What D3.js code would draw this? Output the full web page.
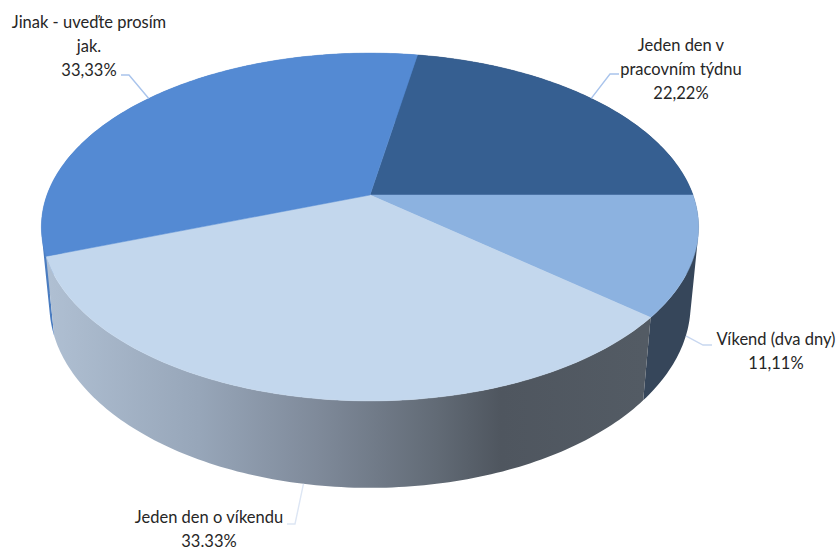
<!DOCTYPE html>
<html>
<head>
<meta charset="utf-8">
<script src="https://cdn.jsdelivr.net/npm/d3@7"></script>
<style>
  html, body { margin: 0; padding: 0; background: #fff; overflow: hidden; }
  text { font-family: Lato, "Open Sans", sans-serif; font-size: 16.5px; fill: #262626; }
</style>
</head>
<body>
<svg id="chart" width="837" height="548"></svg>
<script>
// chart data, top level
const categories = ["Jeden den v pracovním týdnu", "Víkend (dva dny)", "Jeden den o víkendu", "Jinak - uveďte prosím jak."];
const values = [22.22, 11.11, 33.33, 33.33];
const valueLabels = ["22,22%", "11,11%", "33.33%", "33,33%"];
const labelLines = [["Jeden den v", "pracovním týdnu"], ["Víkend (dva dny)"], ["Jeden den o víkendu"], ["Jinak - uveďte prosím", "jak."]];

const topColors = ["#365f91", "#8cb2e0", "#c3d7ed", "#548ad3"];
const sideColors = ["#263f5e", "#36465a", "url(#sideFade)", "#4a7cc0"];
const leaderColors = ["#a9c4ec", "#c8d7f0", "#dde6f4", "#a9c4ec"];

// perspective of the tilted disc
const cx = 370, cy = 195;
const rx = 323, ry = 168;
const tilt = 0.184;    // how much the front edge grows
const depth = 78;      // thickness on screen
const shrink = 0.024;  // lower face is a bit smaller

function project(angle, lower) {
  const X = Math.sin(angle), Y = -Math.cos(angle);
  const w = 1 - tilt * Y + (lower ? shrink : 0);
  return [cx + rx * X / w, cy + (ry * Y + (lower ? depth : 0)) / w];
}

const svg = d3.select("#chart");
const line = d3.line();

const fade = svg.append("defs").append("linearGradient")
  .attr("id", "sideFade")
  .attr("gradientUnits", "userSpaceOnUse")
  .attr("x1", 50).attr("x2", 643).attr("y1", 0).attr("y2", 0);
[[0, "#afbfd2"], [0.25, "#97a6b9"], [0.45, "#7f8a9a"], [0.65, "#626b76"], [0.76, "#4f565f"], [1, "#535b64"]]
  .forEach(s => fade.append("stop").attr("offset", s[0]).attr("stop-color", s[1]));

const pie = d3.pie().sort(null)
  .startAngle(10 * Math.PI / 180)
  .endAngle(370 * Math.PI / 180);
const slices = pie(values);

function sampleAngles(d) {
  const n = Math.max(2, Math.ceil((d.endAngle - d.startAngle) * 60));
  return d3.range(n + 1).map(i => d.startAngle + (d.endAngle - d.startAngle) * i / n);
}

// wall as thin strips between top and lower rim, all wound the same way
// so the fold at the left and right edges stays filled
function wallPath(d) {
  const a = sampleAngles(d);
  return d3.pairs(a).map(([a0, a1]) => {
    const quad = [project(a0, false), project(a1, false), project(a1, true), project(a0, true)];
    if (d3.polygonArea(quad) < 0) quad.reverse();
    return line(quad) + "Z";
  }).join("");
}

// back slices first so the front ones sit on top
svg.append("g").selectAll("path")
  .data([slices[0], slices[3], slices[1], slices[2]])
  .enter().append("path")
  .attr("d", wallPath)
  .attr("fill", d => sideColors[d.index]);

// top face
svg.append("g").selectAll("path")
  .data(slices)
  .enter().append("path")
  .attr("d", d => line([[cx, cy]].concat(sampleAngles(d).map(a => project(a, false)))) + "Z")
  .attr("fill", d => topColors[d.index])
  .attr("stroke", d => topColors[d.index])
  .attr("stroke-width", 0.5);

// leader lines start at the slice's middle angle
const leaderBends = [
  { lower: false, pts: [[610, 74], [619, 74]] },
  { lower: true, pts: [[703, 345], [712, 345]] },
  { lower: true, pts: [[295, 524], [287, 524]] },
  { lower: false, pts: [[129, 75], [121, 75]] }
];
svg.append("g").selectAll("path")
  .data(slices)
  .enter().append("path")
  .attr("d", d => line([project((d.startAngle + d.endAngle) / 2, leaderBends[d.index].lower)].concat(leaderBends[d.index].pts)))
  .attr("fill", "none")
  .attr("stroke", d => leaderColors[d.index])
  .attr("stroke-width", 1.4);

// labels
const labelPos = [
  { x: 681, y: 50.5 },
  { x: 776, y: 345 },
  { x: 209, y: 523 },
  { x: 89, y: 28 }
];
const lineStep = 24;
const labels = svg.append("g").selectAll("text")
  .data(categories)
  .enter().append("text")
  .attr("text-anchor", "middle")
  .attr("x", (d, i) => labelPos[i].x)
  .attr("y", (d, i) => labelPos[i].y);
labels.each(function(d, i) {
  const lines = labelLines[i].concat(valueLabels[i]);
  d3.select(this).selectAll("tspan")
    .data(lines)
    .enter().append("tspan")
    .attr("x", labelPos[i].x)
    .attr("dy", (t, j) => j === 0 ? 0 : lineStep)
    .text(t => t);
});
</script>
</body>
</html>
